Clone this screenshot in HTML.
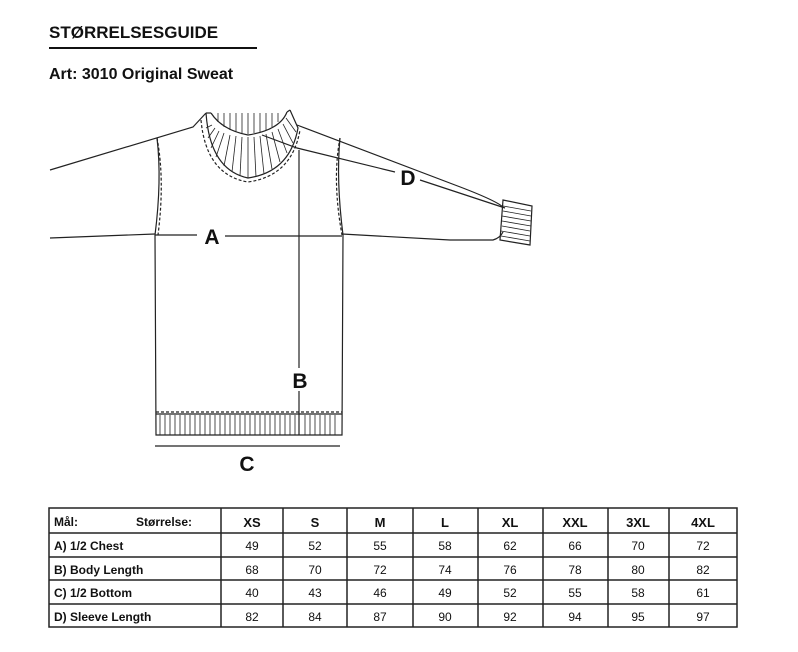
<!DOCTYPE html>
<html><head><meta charset="utf-8"><style>
body{margin:0;background:#fff;width:798px;height:652px;overflow:hidden;font-family:"Liberation Sans",sans-serif}
svg{position:absolute;left:0;top:0}
</style></head><body>
<svg width="798" height="652" viewBox="0 0 798 652" font-family="Liberation Sans, sans-serif">
<text x="49" y="38" font-size="17" font-weight="bold" fill="#111">STØRRELSESGUIDE</text>
<line x1="49" y1="48" x2="257" y2="48" stroke="#111" stroke-width="2"/>
<text x="49" y="79" font-size="16" font-weight="bold" fill="#111">Art: 3010 Original Sweat</text>

<g stroke="#222" stroke-width="1.2" fill="none">
<!-- sleeves -->
<path d="M50 170 L193 127 L206 113"/>
<path d="M50 238 L155 234"/>
<path d="M297 125 L455 185 Q495 200 503 207"/>
<path d="M342 234 L450 240 L493 240 Q500 238 503 232"/>
<!-- cuff -->
<path d="M503 200 L532 206 L530 245 L500 240 Z"/>
<g stroke-width="0.8">
<line x1="503" y1="206" x2="531" y2="211"/><line x1="503" y1="211" x2="531" y2="216"/><line x1="502" y1="216" x2="531" y2="221"/><line x1="502" y1="221" x2="531" y2="226"/><line x1="502" y1="226" x2="530" y2="231"/><line x1="501" y1="231" x2="530" y2="236"/><line x1="501" y1="236" x2="530" y2="241"/>
</g>
<!-- armholes -->
<path d="M157 138 Q165 180 158 235" stroke-dasharray="3 2"/>
<path d="M157 138 Q162 180 155 235"/>
<path d="M340 138 Q332 180 342 235" stroke-dasharray="3 2"/>
<path d="M340 138 Q336 180 343 235"/>
<!-- body -->
<path d="M155 235 L156 435 L342 435 L343 235"/>
<line x1="156" y1="412" x2="342" y2="412" stroke-dasharray="3 2"/>
<line x1="156" y1="414" x2="342" y2="414"/>
<!-- neck -->
<path d="M206 113 Q210 170 248 178 Q290 172 298 128 L290 110"/>
<path d="M211 113 Q222 130 248 135 Q280 130 287 112" />
<path d="M201 120 Q206 175 248 182 Q292 176 300 130" stroke-dasharray="3 2"/>
<line x1="211" y1="113" x2="206" y2="113"/><line x1="287" y1="112" x2="290" y2="110"/>
</g>
<g stroke="#222" stroke-width="0.8">
<line x1="212" y1="125" x2="206" y2="128"/><line x1="215" y1="128" x2="208" y2="138"/><line x1="219" y1="131" x2="211" y2="148"/><line x1="224" y1="133" x2="216" y2="157"/><line x1="230" y1="135" x2="224" y2="166"/><line x1="236" y1="136" x2="232" y2="172"/><line x1="242" y1="137" x2="240" y2="176"/><line x1="248" y1="137" x2="248" y2="178"/><line x1="254" y1="137" x2="256" y2="177"/><line x1="260" y1="136" x2="264" y2="174"/><line x1="266" y1="134" x2="272" y2="169"/><line x1="272" y1="132" x2="280" y2="162"/><line x1="278" y1="129" x2="287" y2="153"/><line x1="283" y1="124" x2="293" y2="143"/><line x1="286" y1="118" x2="296" y2="132"/>
<line x1="218" y1="113" x2="218" y2="122"/><line x1="224" y1="113" x2="224" y2="127"/><line x1="230" y1="113" x2="230" y2="130"/><line x1="236" y1="113" x2="236" y2="132"/><line x1="242" y1="113" x2="242" y2="133"/><line x1="248" y1="113" x2="248" y2="134"/><line x1="254" y1="113" x2="254" y2="133"/><line x1="260" y1="113" x2="260" y2="132"/><line x1="266" y1="113" x2="266" y2="130"/><line x1="272" y1="113" x2="272" y2="127"/><line x1="278" y1="113" x2="278" y2="122"/>
</g>
<g stroke="#222" stroke-width="0.8">
<script>/* none */</script>
<line x1="160" y1="415" x2="160" y2="435"/><line x1="165" y1="415" x2="165" y2="435"/><line x1="170" y1="415" x2="170" y2="435"/><line x1="175" y1="415" x2="175" y2="435"/><line x1="180" y1="415" x2="180" y2="435"/><line x1="185" y1="415" x2="185" y2="435"/><line x1="190" y1="415" x2="190" y2="435"/><line x1="195" y1="415" x2="195" y2="435"/><line x1="200" y1="415" x2="200" y2="435"/><line x1="205" y1="415" x2="205" y2="435"/><line x1="210" y1="415" x2="210" y2="435"/><line x1="215" y1="415" x2="215" y2="435"/><line x1="220" y1="415" x2="220" y2="435"/><line x1="225" y1="415" x2="225" y2="435"/><line x1="230" y1="415" x2="230" y2="435"/><line x1="235" y1="415" x2="235" y2="435"/><line x1="240" y1="415" x2="240" y2="435"/><line x1="245" y1="415" x2="245" y2="435"/><line x1="250" y1="415" x2="250" y2="435"/><line x1="255" y1="415" x2="255" y2="435"/><line x1="260" y1="415" x2="260" y2="435"/><line x1="265" y1="415" x2="265" y2="435"/><line x1="270" y1="415" x2="270" y2="435"/><line x1="275" y1="415" x2="275" y2="435"/><line x1="280" y1="415" x2="280" y2="435"/><line x1="285" y1="415" x2="285" y2="435"/><line x1="290" y1="415" x2="290" y2="435"/><line x1="295" y1="415" x2="295" y2="435"/><line x1="305" y1="415" x2="305" y2="435"/><line x1="310" y1="415" x2="310" y2="435"/><line x1="315" y1="415" x2="315" y2="435"/><line x1="320" y1="415" x2="320" y2="435"/><line x1="325" y1="415" x2="325" y2="435"/><line x1="330" y1="415" x2="330" y2="435"/><line x1="335" y1="415" x2="335" y2="435"/>
</g>
<!-- measurement lines -->
<g stroke="#222" stroke-width="1.2" fill="none">
<line x1="155" y1="235" x2="197" y2="235"/><line x1="225" y1="236" x2="342" y2="236"/>
<path d="M262 135 L297 148 L395 172"/><path d="M420 180 L505 208"/>
<line x1="299" y1="150" x2="299" y2="368"/><line x1="299" y1="391" x2="299" y2="435"/>
<line x1="155" y1="446" x2="340" y2="446"/>
</g>
<g font-size="21" font-weight="bold" fill="#111" text-anchor="middle">
<text x="212" y="244">A</text><text x="300" y="388">B</text><text x="247" y="471">C</text><text x="408" y="185">D</text>
</g>

<!-- table -->
<g stroke="#222" stroke-width="1.5" fill="none">
<rect x="49" y="508" width="688" height="119"/>
<line x1="49" y1="533" x2="737" y2="533"/><line x1="49" y1="557" x2="737" y2="557"/><line x1="49" y1="580" x2="737" y2="580"/><line x1="49" y1="604" x2="737" y2="604"/>
<line x1="221" y1="508" x2="221" y2="627"/><line x1="283" y1="508" x2="283" y2="627"/><line x1="347" y1="508" x2="347" y2="627"/><line x1="413" y1="508" x2="413" y2="627"/><line x1="478" y1="508" x2="478" y2="627"/><line x1="543" y1="508" x2="543" y2="627"/><line x1="608" y1="508" x2="608" y2="627"/><line x1="669" y1="508" x2="669" y2="627"/>
</g>
<g font-size="12" fill="#111">
<g font-weight="bold">
<text x="54" y="526">Mål:</text><text x="136" y="526">Størrelse:</text>
<text x="54" y="550">A) 1/2 Chest</text><text x="54" y="574">B) Body Length</text><text x="54" y="597">C) 1/2 Bottom</text><text x="54" y="621">D) Sleeve Length</text>
</g>
<g text-anchor="middle" font-weight="bold" font-size="13">
<text x="252" y="527">XS</text><text x="315" y="527">S</text><text x="380" y="527">M</text><text x="445" y="527">L</text><text x="510" y="527">XL</text><text x="575" y="527">XXL</text><text x="638" y="527">3XL</text><text x="703" y="527">4XL</text>
</g>
<g text-anchor="middle">
<text x="252" y="550">49</text><text x="315" y="550">52</text><text x="380" y="550">55</text><text x="445" y="550">58</text><text x="510" y="550">62</text><text x="575" y="550">66</text><text x="638" y="550">70</text><text x="703" y="550">72</text>
<text x="252" y="574">68</text><text x="315" y="574">70</text><text x="380" y="574">72</text><text x="445" y="574">74</text><text x="510" y="574">76</text><text x="575" y="574">78</text><text x="638" y="574">80</text><text x="703" y="574">82</text>
<text x="252" y="597">40</text><text x="315" y="597">43</text><text x="380" y="597">46</text><text x="445" y="597">49</text><text x="510" y="597">52</text><text x="575" y="597">55</text><text x="638" y="597">58</text><text x="703" y="597">61</text>
<text x="252" y="621">82</text><text x="315" y="621">84</text><text x="380" y="621">87</text><text x="445" y="621">90</text><text x="510" y="621">92</text><text x="575" y="621">94</text><text x="638" y="621">95</text><text x="703" y="621">97</text>
</g>
</g>
</svg>
</body></html>
